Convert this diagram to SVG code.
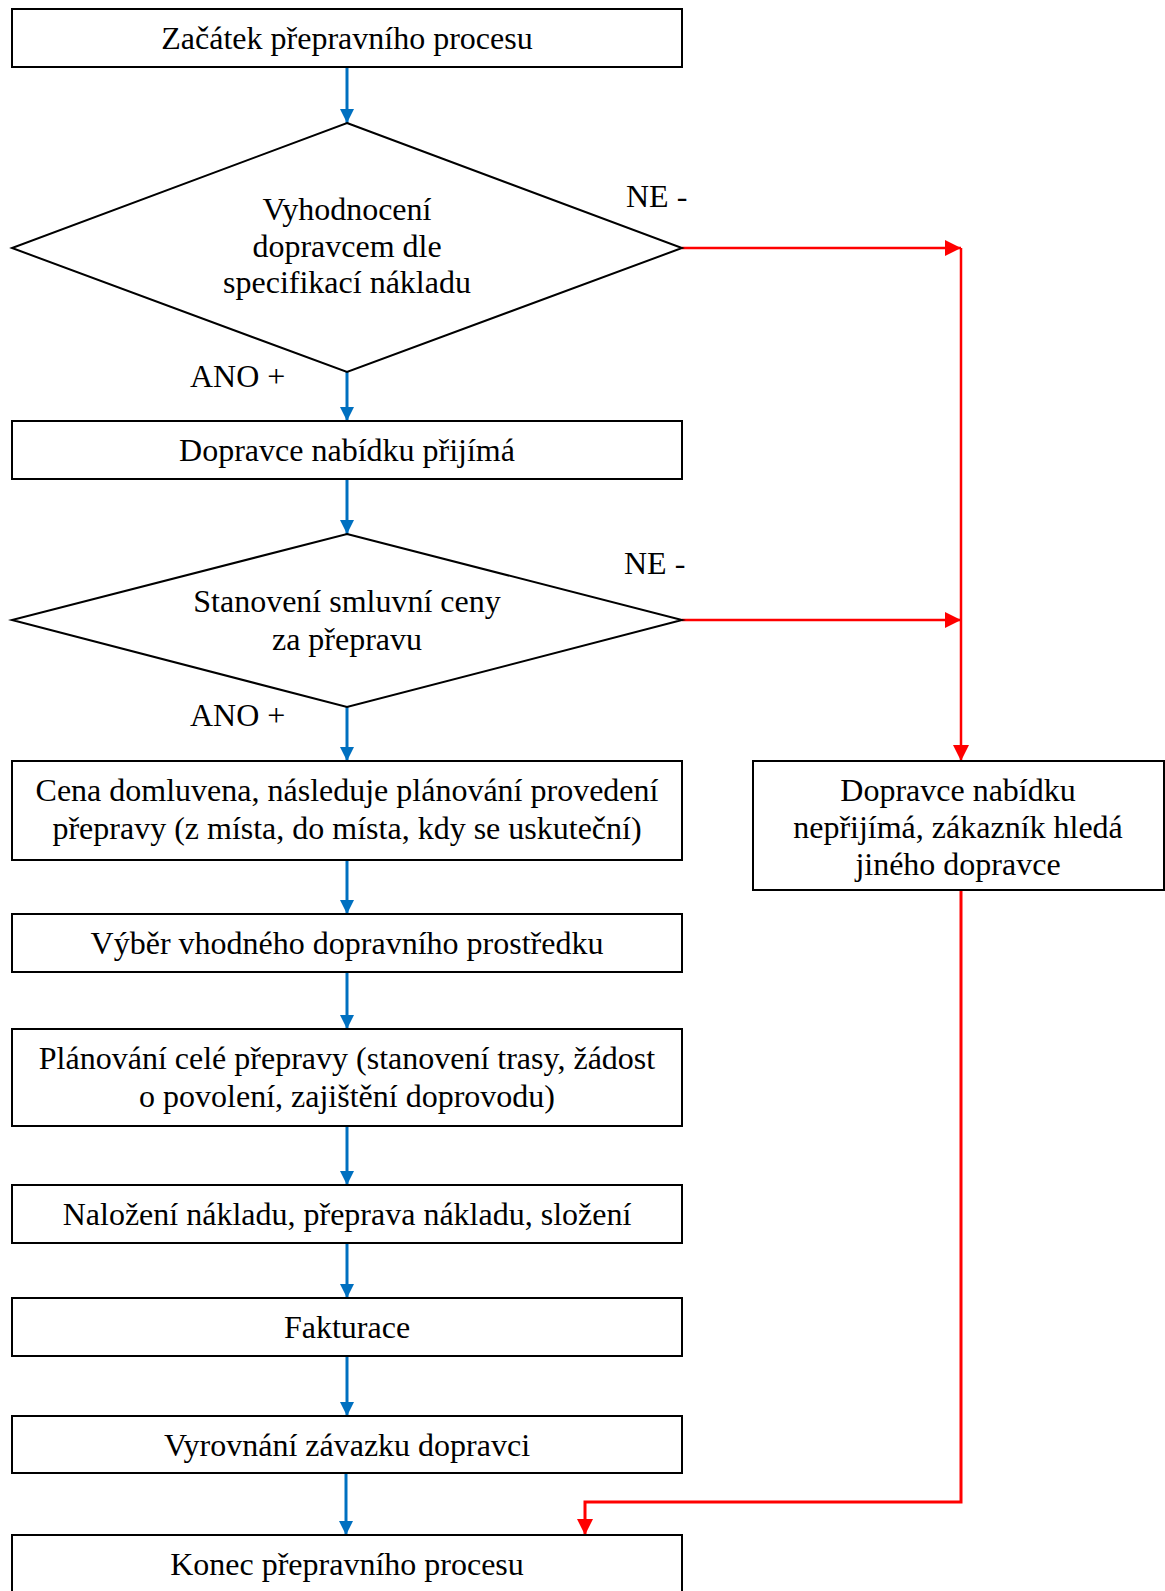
<svg xmlns="http://www.w3.org/2000/svg" width="1165" height="1591" viewBox="0 0 1165 1591">
<style>
.box{fill:#fff;stroke:#000;stroke-width:2}
.t{font-family:"Liberation Serif","Times New Roman",serif;font-size:32px;fill:#000;text-anchor:middle}
.l{font-family:"Liberation Serif","Times New Roman",serif;font-size:32px;fill:#000}
.blue{stroke:#0070C0;stroke-width:3;fill:none}
.red{stroke:#FF0000;stroke-width:2.5;fill:none}
.red2{stroke:#FF0000;stroke-width:3;fill:none}
</style>
<defs>
<marker id="ab" markerUnits="userSpaceOnUse" markerWidth="14" markerHeight="16" refX="14" refY="7" orient="auto">
<path d="M0,0 L14,7 L0,14 Z" fill="#0070C0"/>
</marker>
<marker id="ar" markerUnits="userSpaceOnUse" markerWidth="16" markerHeight="16" refX="16" refY="8" orient="auto">
<path d="M0,0 L16,8 L0,16 Z" fill="#FF0000"/>
</marker>
</defs>
<rect width="1165" height="1591" fill="#fff"/>
<g id="connectors">
<line class="blue" x1="347" y1="67" x2="347" y2="123" marker-end="url(#ab)"/>
<line class="blue" x1="347" y1="372" x2="347" y2="421" marker-end="url(#ab)"/>
<line class="blue" x1="347" y1="479" x2="347" y2="534" marker-end="url(#ab)"/>
<line class="blue" x1="347" y1="707" x2="347" y2="761" marker-end="url(#ab)"/>
<line class="blue" x1="347" y1="860" x2="347" y2="914" marker-end="url(#ab)"/>
<line class="blue" x1="347" y1="972" x2="347" y2="1029" marker-end="url(#ab)"/>
<line class="blue" x1="347" y1="1126" x2="347" y2="1185" marker-end="url(#ab)"/>
<line class="blue" x1="347" y1="1243" x2="347" y2="1298" marker-end="url(#ab)"/>
<line class="blue" x1="347" y1="1356" x2="347" y2="1416" marker-end="url(#ab)"/>
<line class="blue" x1="346" y1="1473" x2="346" y2="1535" marker-end="url(#ab)"/>
<line class="red" x1="682" y1="248" x2="961" y2="248" marker-end="url(#ar)"/>
<line class="red" x1="961" y1="248" x2="961" y2="761" marker-end="url(#ar)"/>
<line class="red" x1="682" y1="620" x2="961" y2="620" marker-end="url(#ar)"/>
<polyline class="red2" points="961,890 961,1502 585,1502 585,1535" marker-end="url(#ar)"/>
</g>
<g id="labels">
<text class="l" x="190" y="387">ANO +</text>
<text class="l" x="190" y="726">ANO +</text>
<text class="l" x="626" y="207">NE -</text>
<text class="l" x="624" y="574">NE -</text>
</g>
<g id="start">
<rect class="box" x="12" y="9" width="670" height="58"/>
<text class="t" x="347" y="49">Začátek přepravního procesu</text>
</g>
<g id="decision1">
<polygon class="box" points="347,123 682,248 347,372 12,248"/>
<text class="t" x="347" y="220">Vyhodnocení</text>
<text class="t" x="347" y="257">dopravcem dle</text>
<text class="t" x="347" y="293">specifikací nákladu</text>
</g>
<g id="accept">
<rect class="box" x="12" y="421" width="670" height="58"/>
<text class="t" x="347" y="461">Dopravce nabídku přijímá</text>
</g>
<g id="decision2">
<polygon class="box" points="347,534 682,620 347,707 12,620"/>
<text class="t" x="347" y="612">Stanovení smluvní ceny</text>
<text class="t" x="347" y="650">za přepravu</text>
</g>
<g id="price">
<rect class="box" x="12" y="761" width="670" height="99"/>
<text class="t" x="347" y="801">Cena domluvena, následuje plánování provedení</text>
<text class="t" x="347" y="839">přepravy (z místa, do místa, kdy se uskuteční)</text>
</g>
<g id="reject">
<rect class="box" x="753" y="761" width="411" height="129"/>
<text class="t" x="958" y="801">Dopravce nabídku</text>
<text class="t" x="958" y="838">nepřijímá, zákazník hledá</text>
<text class="t" x="958" y="875">jiného dopravce</text>
</g>
<g id="vehicle">
<rect class="box" x="12" y="914" width="670" height="58"/>
<text class="t" x="347" y="954">Výběr vhodného dopravního prostředku</text>
</g>
<g id="planning">
<rect class="box" x="12" y="1029" width="670" height="97"/>
<text class="t" x="347" y="1069">Plánování celé přepravy (stanovení trasy, žádost</text>
<text class="t" x="347" y="1107">o povolení, zajištění doprovodu)</text>
</g>
<g id="loading">
<rect class="box" x="12" y="1185" width="670" height="58"/>
<text class="t" x="347" y="1225">Naložení nákladu, přeprava nákladu, složení</text>
</g>
<g id="invoice">
<rect class="box" x="12" y="1298" width="670" height="58"/>
<text class="t" x="347" y="1338">Fakturace</text>
</g>
<g id="settle">
<rect class="box" x="12" y="1416" width="670" height="57"/>
<text class="t" x="347" y="1456">Vyrovnání závazku dopravci</text>
</g>
<g id="end">
<rect class="box" x="12" y="1535" width="670" height="70"/>
<text class="t" x="347" y="1575">Konec přepravního procesu</text>
</g>
</svg>
